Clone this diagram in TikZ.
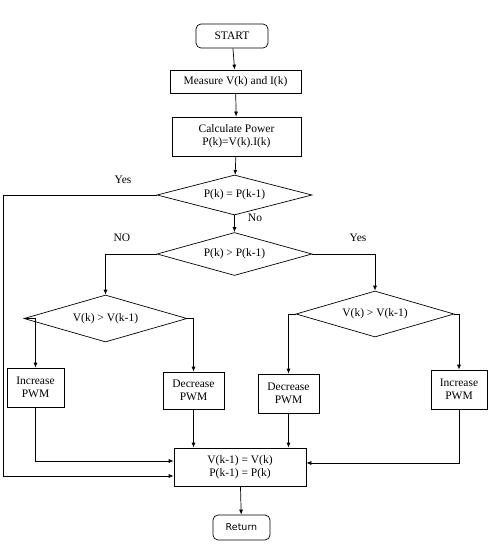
\documentclass[tikz,border=0pt]{standalone}
\usepackage{fontspec}
\setmainfont{Liberation Serif}
\newfontfamily\retfont{DejaVu Sans}
\usetikzlibrary{shapes.geometric,arrows.meta}

\tikzset{
    procbox/.style = {draw, inner sep = 1pt, align = center},
    termbox/.style = {draw, rounded corners = 5pt, inner sep = 1pt},
    testbox/.style = {draw, diamond, inner sep = 0pt, aspect = 3.5},
    lbl/.style = {inner sep = 0pt}
}

\begin{document}
\begin{tikzpicture}[x = 1pt, y = -1pt, >={Latex[length=5pt,width=4pt]},
        font = \fontsize{11.5}{13}\selectfont, line width = 0.7pt]
    \useasboundingbox (0,0) rectangle (489,549);
    % top chain
    \node[termbox, minimum width = 72pt, minimum height = 24pt] (start) at (232,36) {START};
    \node[procbox, minimum width = 131pt, minimum height = 23pt] (meas) at (235.5,81.5) {Measure V(k) and I(k)};
    \node[procbox, minimum width = 129pt, minimum height = 39pt] (calc) at (236.5,136.5) {Calculate Power\\P(k)=V(k).I(k)};
    \node[testbox, minimum width = 155pt, minimum height = 40pt] (eqtest) at (234.5,195) {P(k) = P(k-1)};
    \node[testbox, minimum width = 155pt, minimum height = 43pt] (gttest) at (234.5,254) {P(k) > P(k-1)};
    % voltage tests
    \node[testbox, minimum width = 163pt, minimum height = 47pt] (vleft) at (105.5,318.5) {V(k) > V(k-1)};
    \node[testbox, minimum width = 158pt, minimum height = 46pt] (vright) at (375,314) {V(k) > V(k-1)};
    % duty cycle steps
    \node[procbox, minimum width = 57pt, minimum height = 39pt] (incl) at (35.5,387.5) {Increase\\PWM};
    \node[procbox, minimum width = 61pt, minimum height = 37pt] (decl) at (193.5,390.5) {Decrease\\PWM};
    \node[procbox, minimum width = 61pt, minimum height = 39pt] (decr) at (288.5,393.5) {Decrease\\PWM};
    \node[procbox, minimum width = 56pt, minimum height = 39pt] (incr) at (459,389.5) {Increase\\PWM};
    % update and return
    \node[procbox, minimum width = 132pt, minimum height = 38pt] (upd) at (240,467) {V(k-1) = V(k)\\P(k-1) = P(k)};
    \node[termbox, minimum width = 57pt, minimum height = 25pt, font = \retfont\fontsize{9.5}{11}\selectfont] (ret) at (241.5,527.5) {Return};
    \coordinate (yesturn) at (3,195);

    \draw[->] (start) -- (meas);
    \draw[->] (meas) -- (calc);
    \draw[->] (calc) -- (eqtest);
    \draw[->] (eqtest) -- (gttest);
    \draw[->] (gttest.west) -| (vleft.north);
    \draw[->] (gttest.east) -| (vright.north);
    \draw[->] (vleft.west) -| (incl.north);
    \draw[->] (vleft.east) -| (decl.north);
    \draw[->] (vright.west) -| (decr.north);
    \draw[->] (vright.east) -| (incr.north);
    \draw[->] (incl.south) |- ([yshift=6pt]upd.west);
    \draw[->] (decl.south) -- (decl.south |- upd.north);
    \draw[->] (decr.south) -- (decr.south |- upd.north);
    \draw[->] (incr.south) |- ([yshift=4pt]upd.east);
    \draw[->] (eqtest.west) -- (yesturn) |- ([yshift=-9pt]upd.west);
    \draw[->] (upd) -- (ret);

    \node[lbl] (yeseq) at (123,180) {Yes};
    \node[lbl] (noeq) at (255,218) {No};
    \node[lbl] (nogt) at (122,238) {NO};
    \node[lbl] (yesgt) at (358,238) {Yes};
\end{tikzpicture}
\end{document}
